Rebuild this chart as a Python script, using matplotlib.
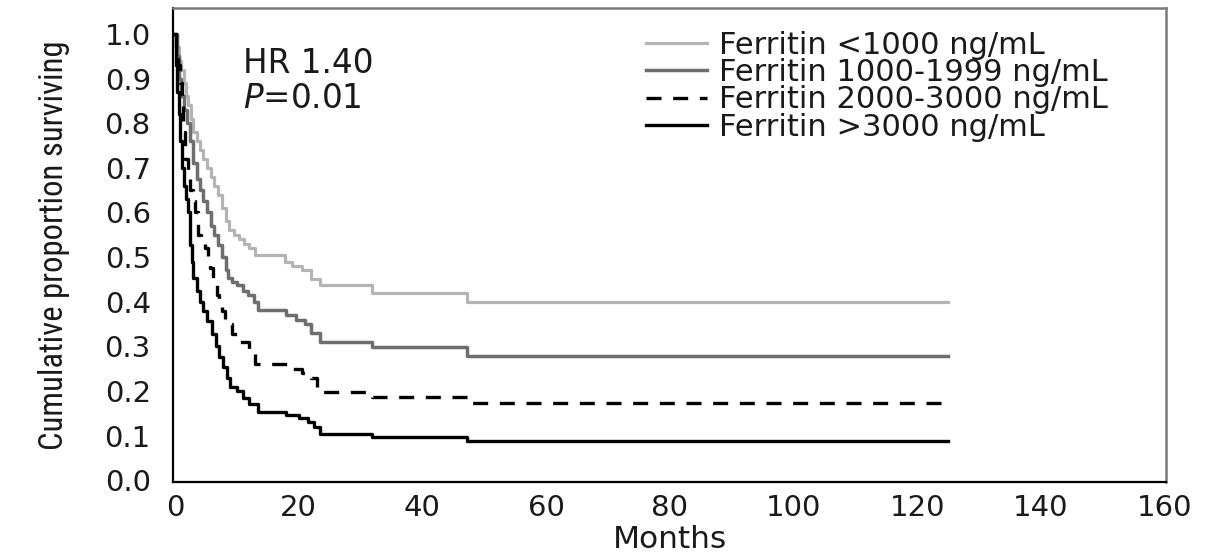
import matplotlib
matplotlib.use("Agg")
import matplotlib.pyplot as plt
from matplotlib import font_manager

# ---- data ----
t_lt1000 = [0, 0.3, 0.6, 1.0, 1.4, 1.8, 2.2, 2.6, 3.0, 3.5, 4.0, 4.6, 5.2, 5.8, 6.4, 7.0,
            7.6, 8.2, 8.8, 9.5, 10.3, 11.2, 12.0, 13.0, 17.8, 19.0, 20.5, 22.0, 23.4,
            31.8, 47.3, 125]
s_lt1000 = [1.0, 0.97, 0.94, 0.92, 0.89, 0.86, 0.84, 0.81, 0.78, 0.76, 0.74, 0.72, 0.70,
            0.68, 0.66, 0.64, 0.61, 0.58, 0.56, 0.55, 0.54, 0.53, 0.52, 0.505, 0.49, 0.48,
            0.47, 0.45, 0.437, 0.42, 0.40, 0.40]

t_1000 = [0, 0.3, 0.6, 1.0, 1.4, 1.9, 2.4, 3.0, 3.5, 4.0, 4.6, 5.2, 5.8, 6.4, 7.0, 7.6,
          8.2, 8.6, 9.3, 10.0, 11.0, 11.8, 12.8, 13.5, 18.0, 19.5, 21.0, 22.0, 23.4,
          31.8, 47.3, 125]
s_1000 = [1.0, 0.95, 0.90, 0.86, 0.83, 0.80, 0.76, 0.71, 0.675, 0.65, 0.625, 0.60, 0.57,
          0.55, 0.527, 0.50, 0.47, 0.453, 0.445, 0.438, 0.425, 0.416, 0.40, 0.381, 0.37,
          0.36, 0.35, 0.33, 0.31, 0.298, 0.279, 0.279]

t_2000 = [0, 0.2, 0.5, 0.8, 1.1, 1.3, 1.7, 2.1, 2.5, 2.9, 3.2, 3.7, 4.2, 4.8, 5.3, 5.7,
          6.1, 6.8, 7.2, 7.6, 8.1, 9.2, 10.5, 12.0, 13.0, 18.5, 20.5, 22.0, 23.0, 31.8,
          48.0, 125]
s_2000 = [1.0, 0.97, 0.93, 0.89, 0.85, 0.78, 0.72, 0.68, 0.65, 0.625, 0.60, 0.55, 0.535,
          0.52, 0.498, 0.475, 0.453, 0.416, 0.40, 0.38, 0.35, 0.327, 0.31, 0.29, 0.26,
          0.25, 0.24, 0.23, 0.198, 0.187, 0.172, 0.172]

t_3000 = [0, 0.2, 0.4, 0.6, 0.9, 1.2, 1.5, 1.8, 2.1, 2.4, 2.7, 3.0, 3.5, 4.0, 4.6, 5.2,
          6.0, 6.6, 7.2, 7.8, 8.4, 8.9, 10.0, 11.0, 12.0, 13.4, 18.0, 20.0, 21.5, 22.5,
          23.4, 31.8, 47.3, 125]
s_3000 = [1.0, 0.93, 0.87, 0.82, 0.76, 0.70, 0.66, 0.63, 0.60, 0.527, 0.49, 0.453, 0.425,
          0.40, 0.38, 0.357, 0.327, 0.30, 0.275, 0.253, 0.23, 0.209, 0.20, 0.185, 0.17,
          0.153, 0.145, 0.14, 0.13, 0.12, 0.104, 0.096, 0.087, 0.087]

labels = ["Ferritin <1000 ng/mL", "Ferritin 1000-1999 ng/mL",
          "Ferritin 2000-3000 ng/mL", "Ferritin >3000 ng/mL"]
x_ticks = [0, 20, 40, 60, 80, 100, 120, 140, 160]
y_ticks = [0.0, 0.1, 0.2, 0.3, 0.4, 0.5, 0.6, 0.7, 0.8, 0.9, 1.0]

# ---- fonts ----
def has_font(name):
    try:
        font_manager.findfont(name, fallback_to_default=False)
        return True
    except Exception:
        return False

narrow = None
for cand in ["Liberation Sans Narrow", "DejaVu Sans Condensed", "Roboto Condensed"]:
    if has_font(cand):
        narrow = cand
        break

plt.rcParams["font.family"] = ["DejaVu Sans"]

fig = plt.figure(figsize=(12.09, 5.55), dpi=100)
ax = fig.add_axes([173 / 1209, 1 - 482 / 555, (1166 - 173) / 1209, (482 - 8) / 555])

ax.step(t_lt1000, s_lt1000, where="post", color="#b4b4b4", lw=2.3, label=labels[0])
ax.step(t_1000, s_1000, where="post", color="#6e6e6e", lw=2.5, label=labels[1])
ax.step(t_2000, s_2000, where="post", color="black", lw=2.4, dashes=(4.5, 3.5),
        label=labels[2])
ax.step(t_3000, s_3000, where="post", color="black", lw=2.4, label=labels[3])

ax.set_xlim(-0.3, 160.2)
ax.set_ylim(-0.004, 1.058)
ax.set_xticks(x_ticks)
ax.set_yticks(y_ticks)
ax.set_yticklabels([f"{v:.1f}" for v in y_ticks])
ax.tick_params(axis="both", length=0, labelsize=21, colors="#1a1a1a")
ax.tick_params(axis="y", pad=16)
ax.tick_params(axis="x", pad=9)

for side in ["left", "bottom"]:
    ax.spines[side].set_color("black")
    ax.spines[side].set_linewidth(1.6)
for side in ["top", "right"]:
    ax.spines[side].set_color("#7a7a7a")
    ax.spines[side].set_linewidth(1.8)

ax.set_xlabel("Months", fontsize=22.5, color="#1a1a1a", labelpad=2)
if narrow:
    ax.set_ylabel("Cumulative proportion surviving", fontsize=23.5,
                  family=[narrow, "DejaVu Sans"], color="#1a1a1a")
else:
    ax.set_ylabel("Cumulative proportion surviving", fontsize=20, color="#1a1a1a")
ax.yaxis.set_label_coords(-0.104, 0.5)

ax.text((243 - 173) / 993, (482 - 73) / 474, "HR 1.40", transform=ax.transAxes,
        fontsize=23.5, color="#1a1a1a", ha="left", va="baseline")
ax.text((243 - 173) / 993, (482 - 108) / 474, r"$\it{P}$=0.01", transform=ax.transAxes,
        fontsize=23.5, color="#1a1a1a", ha="left", va="baseline")

leg = ax.legend(loc="upper left", bbox_to_anchor=((646 - 173) / 993, (482 - 31) / 474),
                frameon=False, fontsize=22, handlelength=2.0, handletextpad=0.4,
                labelspacing=-0.06, borderpad=0, borderaxespad=0)
for txt in leg.get_texts():
    txt.set_color("#1a1a1a")

fig.savefig("out.png", dpi=100)
